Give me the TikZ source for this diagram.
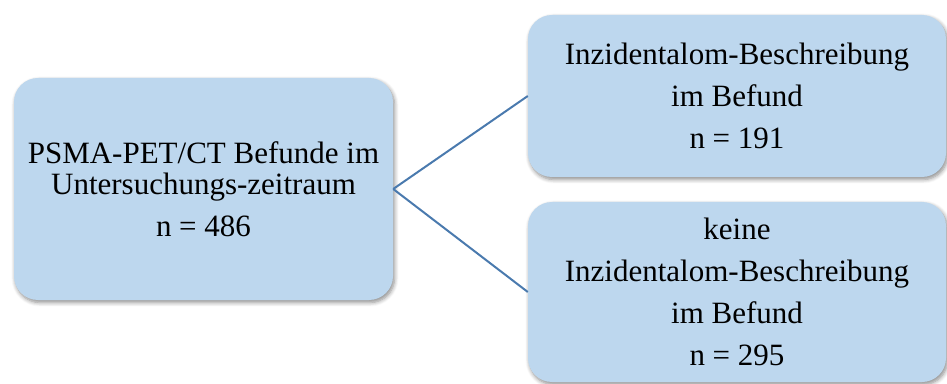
\documentclass[tikz,border=0pt]{standalone}
\usepackage{fontspec}
\setmainfont{Liberation Serif}
\usetikzlibrary{shadows.blur}
\definecolor{boxblue}{HTML}{BDD7EE}
\definecolor{lineblue}{HTML}{4A7AAE}

\begin{document}
\begin{tikzpicture}[x=1pt, y=1pt,
  every node/.style={rounded corners=24pt, fill=boxblue, align=center,
    inner sep=0pt, font=\fontsize{31}{42}\selectfont,
    blur shadow={shadow xshift=1.5pt, shadow yshift=-2.5pt,
      shadow blur steps=6, shadow blur radius=4pt, shadow opacity=45}}]
\useasboundingbox (0,0) rectangle (947,383);
\node[minimum width=379pt, minimum height=222pt] (n1) at (203.5,194)
  {PSMA-PET/CT Befunde im\\[-11pt]Untersuchungs-zeitraum\\n = 486};
\node[minimum width=418pt, minimum height=162pt] (n2) at (737,287)
  {Inzidentalom-Beschreibung\\im Befund\\n = 191};
\node[minimum width=418pt, minimum height=180pt] (n3) at (737,91)
  {keine\\Inzidentalom-Beschreibung\\im Befund\\n = 295};
\draw[lineblue, line width=2pt] (n1.east) -- (n2.west);
\draw[lineblue, line width=2pt] (n1.east) -- (n3.west);
\end{tikzpicture}
\end{document}
